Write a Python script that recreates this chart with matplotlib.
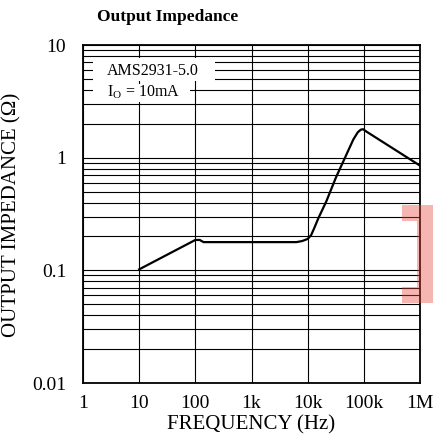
import matplotlib
matplotlib.use("Agg")
import matplotlib.pyplot as plt
from matplotlib.patches import Rectangle
from matplotlib.ticker import FixedLocator, LogLocator, NullFormatter

plt.rcParams['font.family'] = ['Liberation Serif', 'DejaVu Serif']
plt.rcParams['mathtext.fontset'] = 'custom'
plt.rcParams['mathtext.rm'] = 'Liberation Serif'

# Data
freq_hz = [10, 100, 120, 140, 1000, 6300, 8000, 10000, 11500, 13000, 15500,
           21500, 32000, 65000, 78000, 88000, 97000, 110000, 1e6]
impedance_ohm = [0.102, 0.186, 0.186, 0.178, 0.178, 0.178, 0.182, 0.19, 0.205,
                 0.235, 0.29, 0.41, 0.67, 1.45, 1.68, 1.77, 1.79, 1.71, 0.85]

x_ticks = [1, 10, 100, 1e3, 1e4, 1e5, 1e6]
x_tick_labels = ['1', '10', '100', '1k', '10k', '100k', '1M']
y_ticks = [0.01, 0.1, 1, 10]
y_tick_labels = ['0.01', '0.1', '1', '10']

W, H = 433, 445
fig = plt.figure(figsize=(W / 100, H / 100), dpi=100)
ax = fig.add_axes([83 / W, 1 - 383 / H, (420 - 83) / W, (383 - 45) / H])

ax.set_xscale('log')
ax.set_yscale('log')
ax.set_xlim(1, 1e6)
ax.set_ylim(0.01, 10)

ax.set_xticks(x_ticks)
ax.set_xticklabels(x_tick_labels)
ax.xaxis.set_minor_locator(FixedLocator([]))
ax.xaxis.set_minor_formatter(NullFormatter())
ax.set_yticks(y_ticks)
ax.set_yticklabels(y_tick_labels)
ax.yaxis.set_minor_locator(LogLocator(base=10, subs=range(2, 10), numticks=20))
ax.yaxis.set_minor_formatter(NullFormatter())

ax.tick_params(which='both', length=0, labelsize=14)
ax.tick_params(axis='x', pad=9)
ax.tick_params(axis='y', pad=12)

ax.grid(True, which='major', axis='both', color='black', lw=0.8)
ax.grid(True, which='minor', axis='y', color='black', lw=0.8)
ax.set_axisbelow(True)
for s in ax.spines.values():
    s.set_linewidth(1.3)
    s.set_color('black')

ax.plot(freq_hz, impedance_ohm, color='black', lw=1.6, zorder=3)

ax.set_xlabel('FREQUENCY (Hz)', fontsize=15, labelpad=2)
fig.text(12 / W, 1 - 215 / H, 'OUTPUT IMPEDANCE (Ω)', rotation=90,
         ha='center', va='center', fontsize=15)

fig.text(97 / W, 1 - 17 / H, 'Output Impedance', fontweight='bold',
         fontsize=12.5, ha='left', va='center')

# label boxes
def fig_rect(x0, y0, x1, y1, **kw):
    return Rectangle((x0 / W, 1 - y1 / H), (x1 - x0) / W, (y1 - y0) / H,
                     transform=fig.transFigure, **kw)

fig.add_artist(fig_rect(93, 58, 215, 81, facecolor='white', edgecolor='none', zorder=4))
fig.add_artist(fig_rect(93, 84, 190, 102, facecolor='white', edgecolor='none', zorder=4))
fig.text(107 / W, 1 - 71 / H, 'AMS2931-5.0', fontsize=11.5, ha='left', va='center', zorder=5)
fig.text(107 / W, 1 - 92 / H, r'I$_\mathregular{O}$ = 10mA', fontsize=11.5,
         ha='left', va='center', zorder=5)

# pink bracket overlay
pink = '#e8463c'
fig.add_artist(fig_rect(402, 205, 417, 221, facecolor=pink, alpha=0.4, edgecolor='none', zorder=10))
fig.add_artist(fig_rect(417, 205, 433, 303, facecolor=pink, alpha=0.4, edgecolor='none', zorder=10))
fig.add_artist(fig_rect(402, 287, 417, 303, facecolor=pink, alpha=0.4, edgecolor='none', zorder=10))

fig.savefig('out.png', dpi=100)
